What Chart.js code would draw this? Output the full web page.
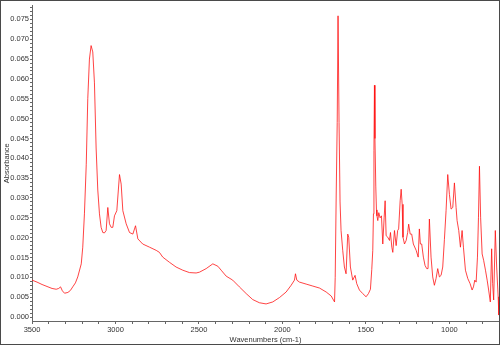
<!DOCTYPE html>
<html>
<head>
<meta charset="utf-8">
<script src="https://cdn.jsdelivr.net/npm/chart.js@4"></script>
<style>
  body { margin: 0; background: #fff; }
  canvas { display: block; }
</style>
</head>
<body>
<canvas id="chart" width="500" height="345"></canvas>
<script>
// spectrum, wavenumber (cm-1) descending
const wavenumbers = [
  3500, 3470, 3440, 3410, 3380, 3355, 3340, 3329, 3318, 3305, 3285, 3270, 3256, 3240, 3226,
  3205, 3196, 3186, 3175, 3166, 3156, 3146, 3136, 3126, 3116, 3106, 3096, 3086, 3076, 3066,
  3056, 3046, 3036, 3026, 3016, 3006, 2992, 2976, 2966, 2956, 2936, 2916, 2896, 2880, 2866,
  2837, 2796, 2756, 2737, 2717, 2677, 2637, 2597, 2557, 2517, 2497, 2457, 2417, 2387, 2367,
  2337, 2298, 2258, 2217, 2178, 2138, 2098, 2058, 2018, 1978, 1948, 1928, 1922, 1914, 1898,
  1858, 1818, 1778, 1738, 1708, 1688, 1684, 1678, 1672, 1667, 1661, 1655, 1649, 1639, 1629,
  1619, 1609, 1603, 1593, 1579, 1565, 1555, 1539, 1519, 1499, 1485, 1473, 1465, 1459, 1455,
  1452, 1449, 1446, 1441, 1437, 1434, 1429, 1423, 1415, 1407, 1399, 1391, 1385, 1379, 1369,
  1359, 1353, 1345, 1339, 1329, 1319, 1310, 1304, 1295, 1289, 1283, 1278, 1269, 1259, 1250,
  1244, 1235, 1226, 1216, 1199, 1187, 1180, 1174, 1166, 1156, 1146, 1136, 1128, 1120, 1110,
  1100, 1090, 1080, 1070, 1060, 1050, 1040, 1030, 1020, 1010, 1000, 990, 980, 970, 960,
  954, 944, 934, 924, 916, 904, 890, 876, 864, 856, 848, 840, 832, 826, 820,
  813, 804, 795, 784, 774, 765, 755, 747, 741, 735, 725, 717, 708, 704
];
const absorbance = [
  0.0093, 0.0088, 0.0082, 0.0077, 0.0072, 0.0070, 0.0072, 0.0076, 0.0066, 0.0060, 0.0062, 0.0067, 0.0076, 0.0086, 0.0101,
  0.0134, 0.0176, 0.0260, 0.0385, 0.0550, 0.0650, 0.0684, 0.0668, 0.0590, 0.0426, 0.0320, 0.0260, 0.0226, 0.0213, 0.0212,
  0.0218, 0.0276, 0.0235, 0.0226, 0.0226, 0.0255, 0.0268, 0.0359, 0.0335, 0.0268, 0.0235, 0.0213, 0.0209, 0.0230, 0.0197,
  0.0184, 0.0176, 0.0168, 0.0163, 0.0151, 0.0138, 0.0126, 0.0118, 0.0112, 0.0111, 0.0113, 0.0122, 0.0134, 0.0128, 0.0118,
  0.0103, 0.0093, 0.0076, 0.0059, 0.0044, 0.0036, 0.0033, 0.0038, 0.0049, 0.0063, 0.0080, 0.0093, 0.0109, 0.0093, 0.0088,
  0.0083, 0.0078, 0.0073, 0.0063, 0.0053, 0.0038, 0.0100, 0.0310, 0.0490, 0.0759, 0.0490, 0.0290, 0.0218, 0.0168, 0.0126,
  0.0109, 0.0209, 0.0201, 0.0126, 0.0093, 0.0105, 0.0084, 0.0068, 0.0059, 0.0051, 0.0059, 0.0070, 0.0120, 0.0168, 0.0260,
  0.0420, 0.0584, 0.0450, 0.0330, 0.0270, 0.0255, 0.0243, 0.0263, 0.0250, 0.0255, 0.0184, 0.0250, 0.0293, 0.0205, 0.0201,
  0.0193, 0.0213, 0.0176, 0.0163, 0.0218, 0.0180, 0.0218, 0.0222, 0.0293, 0.0322, 0.0284, 0.0201, 0.0184, 0.0193, 0.0213,
  0.0234, 0.0209, 0.0209, 0.0184, 0.0168, 0.0151, 0.0222, 0.0184, 0.0184, 0.0151, 0.0130, 0.0122, 0.0122, 0.0247, 0.0151,
  0.0101, 0.0080, 0.0097, 0.0122, 0.0101, 0.0105, 0.0126, 0.0195, 0.0268, 0.0359, 0.0309, 0.0272, 0.0276, 0.0338, 0.0276,
  0.0243, 0.0218, 0.0176, 0.0218, 0.0176, 0.0118, 0.0097, 0.0084, 0.0068, 0.0076, 0.0093, 0.0088, 0.0151, 0.0250, 0.0380,
  0.0250, 0.0159, 0.0143, 0.0118, 0.0093, 0.0068, 0.0038, 0.0172, 0.0084, 0.0043, 0.0218, 0.0126, 0.0051, 0.0005
];

const xTickLabels = [3500, 3000, 2500, 2000, 1500, 1000];
const yTickLabels = [0.000, 0.005, 0.010, 0.015, 0.020, 0.025, 0.030, 0.035,
                     0.040, 0.045, 0.050, 0.055, 0.060, 0.065, 0.070, 0.075];

const X_MIN = 703, X_MAX = 3500;
const Y_MIN = -0.001, Y_MAX = 0.0785;

const points = wavenumbers.map((w, i) => ({ x: w, y: absorbance[i] }));

// minor ticks every 100 cm-1 and every 0.001
const xMinor = [];
for (let v = 3500; v >= 800; v -= 100) xMinor.push({ value: v });
const yMinor = [];
for (let k = 0; k <= 78; k++) yMinor.push({ value: k / 1000 });

const isMajorX = (v) => xTickLabels.includes(v);
const isMajorY = (v) => yTickLabels.some((t) => Math.abs(t - v) < 1e-9);

const tickFont = { family: "Arial, 'Liberation Sans', sans-serif", size: 7.5 };

const frame = {
  id: "frame",
  afterDraw(chart) {
    const ctx = chart.ctx;
    ctx.save();
    ctx.strokeStyle = "#4a4a4a";
    ctx.lineWidth = 1;
    ctx.strokeRect(0.5, 0.5, chart.width - 1, chart.height - 1);
    ctx.restore();
  },
};

new Chart(document.getElementById("chart"), {
  type: "line",
  data: {
    datasets: [
      {
        data: points,
        borderColor: "rgba(255, 15, 15, 0.78)",
        borderWidth: 1,
        pointRadius: 0,
        tension: 0,
        fill: false,
      },
    ],
  },
  options: {
    responsive: false,
    animation: false,
    devicePixelRatio: 1,
    layout: { padding: { top: 3, right: 1, left: 0, bottom: 0 } },
    plugins: { legend: { display: false }, tooltip: { enabled: false } },
    scales: {
      x: {
        type: "linear",
        reverse: true,
        min: X_MIN,
        max: X_MAX,
        afterBuildTicks: (scale) => { scale.ticks = xMinor.slice(); },
        afterFit: (scale) => { scale.height = 24; },
        grid: { drawOnChartArea: false, drawTicks: true, tickLength: 3, color: "#666" },
        border: { display: true, color: "#666" },
        ticks: {
          autoSkip: false,
          maxRotation: 0,
          padding: 1,
          color: "#333",
          font: tickFont,
          callback: (v) => (isMajorX(v) ? String(v) : ""),
        },
        title: {
          display: true,
          text: "Wavenumbers (cm-1)",
          color: "#333",
          font: tickFont,
          padding: { top: 0, bottom: 1 },
        },
      },
      y: {
        min: Y_MIN,
        max: Y_MAX,
        afterBuildTicks: (scale) => { scale.ticks = yMinor.slice(); },
        afterFit: (scale) => { scale.width = 32; },
        grid: { drawOnChartArea: false, drawTicks: true, tickLength: 2, color: "#666" },
        border: { display: true, color: "#666", dash: [1, 1] },
        ticks: {
          autoSkip: false,
          padding: 1,
          color: "#333",
          font: tickFont,
          callback: (v) => (isMajorY(v) ? v.toFixed(3) : ""),
        },
        title: {
          display: true,
          text: "Absorbance",
          color: "#333",
          font: tickFont,
          padding: { top: 2, bottom: 0 },
        },
      },
    },
  },
  plugins: [frame],
});
</script>
</body>
</html>
